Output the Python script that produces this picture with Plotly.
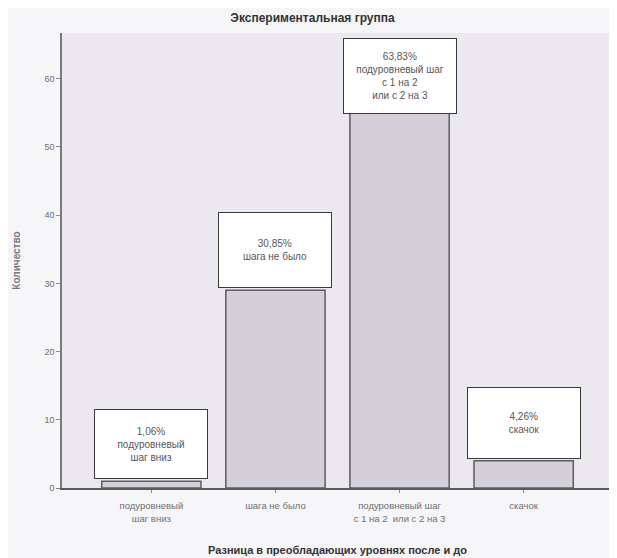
import plotly.graph_objects as go

# data (N = 94)
categories = [
    "подуровневый<br>шаг вниз",
    "шага не было",
    "подуровневый шаг<br>с 1 на 2  или с 2 на 3",
    "скачок",
]
counts = [1, 29, 60, 4]
percent_labels = ["1,06%", "30,85%", "63,83%", "4,26%"]
box_texts = [
    "подуровневый<br>шаг вниз",
    "шага не было",
    "подуровневый шаг<br>с 1 на 2<br>или с 2 на 3",
    "скачок",
]
y_ticks = [0, 10, 20, 30, 40, 50, 60]

Y_MAX = 66.7
LABEL_CAP = 54.5   # SPSS pushes a label down when it would leave the frame

# page body has an 8px margin, so the figure is a bit smaller than the window
W, H = 609, 550

fig = go.Figure()
fig.add_trace(go.Bar(
    x=list(range(len(categories))),
    y=counts,
    width=0.8,
    marker=dict(color="#d4d0da", line=dict(color="#5e5c62", width=1.5)),
    hoverinfo="skip",
))

box_heights = [64, 70, 70, 66]
for i, (c, p, t) in enumerate(zip(counts, percent_labels, box_texts)):
    fig.add_annotation(
        x=i, y=min(c, LABEL_CAP) + 0.3, xref="x", yref="y",
        yanchor="bottom", showarrow=False,
        text=f"{p}<br>{t}",
        width=108, height=box_heights[i], valign="middle",
        bgcolor="#ffffff", bordercolor="#3a3a3e", borderwidth=1, borderpad=2,
        font=dict(family="Liberation Sans, Arial, sans-serif", size=10, color="#58565c"),
    )

fig.update_layout(
    width=W, height=H,
    margin=dict(l=54, r=4, t=25, b=70),
    paper_bgcolor="#f6f6f8",
    plot_bgcolor="#ebe9ef",
    showlegend=False,
    font=dict(family="Liberation Sans, Arial, sans-serif", size=9, color="#6a686e"),
    title=dict(
        text="<b>Экспериментальная группа</b>",
        x=0.5, xanchor="center", y=1 - 10 / H, yanchor="middle",
        font=dict(size=12, color="#333236"),
    ),
    xaxis=dict(
        range=[-0.72, 3.72],
        tickvals=list(range(len(categories))),
        ticktext=categories,
        showgrid=False, zeroline=False, automargin=False,
        showline=True, linecolor="#5a5a5e", linewidth=1.5,
        ticks="outside", ticklen=3, tickcolor="#8a8a8e",
        ticklabelstandoff=5,
        tickfont=dict(size=9.5, color="#6f6d73"),
        title=dict(
            text="<b>Разница в преобладающих уровнях после и до</b>",
            font=dict(size=11, color="#333236"), standoff=24,
        ),
    ),
    yaxis=dict(
        range=[0, Y_MAX],
        tickvals=y_ticks,
        showgrid=False, zeroline=False, automargin=False,
        showline=True, linecolor="#7a7a7e", linewidth=1.5,
        ticks="outside", ticklen=4, tickcolor="#8a8a8e",
        tickfont=dict(size=9, color="#6f6d73"),
        title=dict(
            text="<b>Количество</b>",
            font=dict(size=10, color="#7a787e"), standoff=22,
        ),
    ),
)

fig.write_html("out.html")
